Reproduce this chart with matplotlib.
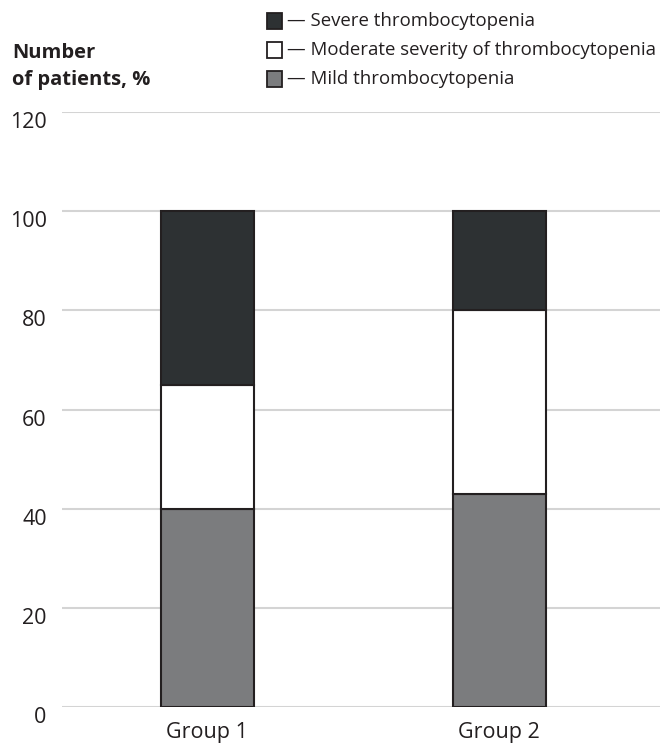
import matplotlib
matplotlib.use('Agg')
import matplotlib.pyplot as plt
from matplotlib.patches import Rectangle

plt.rcParams['font.family'] = ['Open Sans', 'DejaVu Sans']

groups = ['Group 1', 'Group 2']
mild = [40, 43]
moderate = [25, 37]
severe = [35, 20]

labels = ['Severe thrombocytopenia', 'Moderate severity of thrombocytopenia', 'Mild thrombocytopenia']
colors = ['#2d3133', '#ffffff', '#7b7c7e']
edge = '#231f20'
text_color = '#231f20'

W, H = 660, 747
fig = plt.figure(figsize=(W / 100, H / 100), dpi=100)
ax = fig.add_axes([62 / W, 1 - 707 / H, (W - 62) / W, (707 - 112) / H])

x = list(range(len(groups)))
bottom2 = [m + d for m, d in zip(mild, moderate)]
ax.bar(x, mild, width=0.318, color=colors[2], edgecolor=edge, linewidth=1.5, zorder=3)
ax.bar(x, moderate, bottom=mild, width=0.318, color=colors[1], edgecolor=edge, linewidth=1.5, zorder=3)
ax.bar(x, severe, bottom=bottom2, width=0.318, color=colors[0], edgecolor=edge, linewidth=1.5, zorder=3)

ax.set_xlim(-0.497, 1.551)
ax.set_ylim(0, 120)
ax.set_yticks(range(0, 121, 20))
ax.set_xticks(x)
ax.set_xticklabels(groups)
ax.grid(axis='y', color='#d4d4d4', linewidth=1.5, zorder=0)
ax.tick_params(length=0, labelsize=15.5, colors=text_color)
ax.tick_params(axis='y', pad=11)
ax.tick_params(axis='x', pad=11)
for lbl in ax.get_yticklabels():
    lbl.set_va('top')
for s in ax.spines.values():
    s.set_visible(False)

fig.text(12 / W, 1 - 43 / H, 'Number\nof patients, %', fontsize=14.5, fontweight='bold',
         color=text_color, ha='left', va='top', linespacing=1.45)

# legend
for i, (lab, c) in enumerate(zip(labels, colors)):
    yc = 21 + i * 29
    fig.add_artist(Rectangle((267 / W, 1 - (yc + 7.5) / H), 15 / W, 15 / H,
                             facecolor=c, edgecolor=edge, linewidth=1.3,
                             transform=fig.transFigure))
    fig.text(287 / W, 1 - yc / H, '\u2014 ' + lab, fontsize=13.4, color=text_color,
             ha='left', va='center')

fig.savefig('out.png', dpi=100)
